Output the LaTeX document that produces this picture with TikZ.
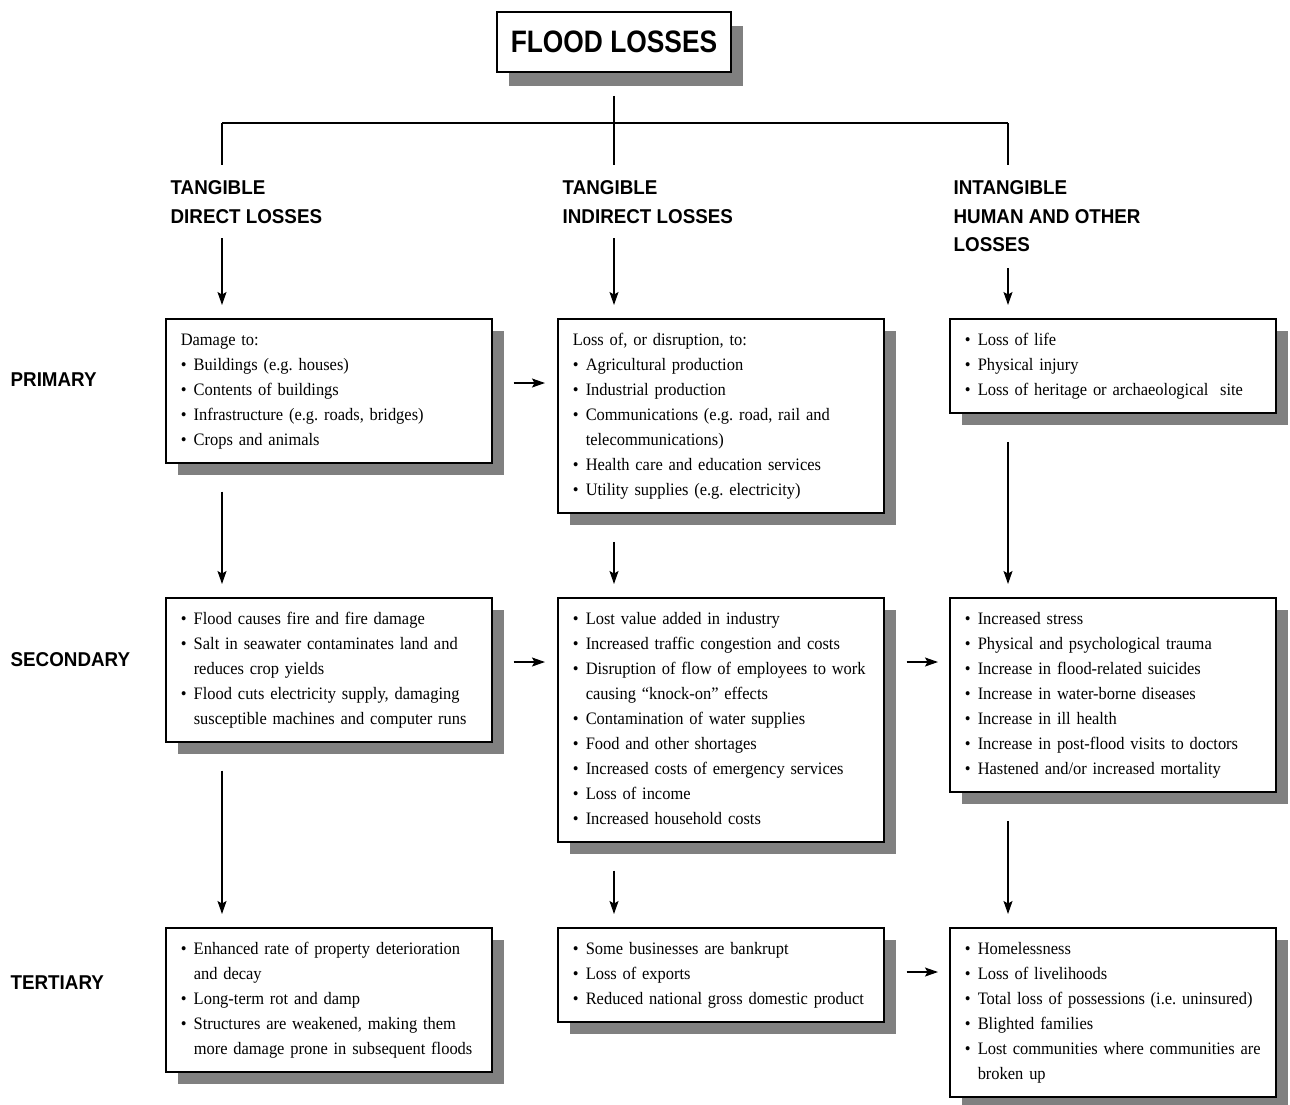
\documentclass[tikz,border=0pt]{standalone}
\usepackage{fontspec}
\setmainfont{Liberation Serif}[FakeStretch=0.94,WordSpace=0.7]
\newfontfamily\headfont{Liberation Sans}[FakeStretch=0.94]
\newfontfamily\titlefont{Liberation Sans}[FakeStretch=0.85]
\usepackage{tikz}
\usetikzlibrary{calc,shadows,arrows.meta}

\newcommand{\lstrut}{\rule[-3.5pt]{0pt}{17pt}}
\newcommand{\itm}[1]{\lstrut\makebox[13pt][l]{\textbullet}\mbox{#1}}
\newcommand{\cnt}[1]{\lstrut\hspace*{13pt}\mbox{#1}}

\begin{document}
\begin{tikzpicture}[x=1pt,y=-1pt,line width=1.3pt,>={Stealth[length=13pt,width=9pt,inset=2.5pt]}]
    \tikzstyle{loss box}=[draw,line width=1.5pt,fill=white,anchor=north west,text width=296pt,inner xsep=15pt,inner ysep=13.5pt,align=left,font=\fontsize{17.5}{25}\selectfont\frenchspacing,drop shadow={shadow xshift=12pt,shadow yshift=-12pt,fill=black!50,opacity=1}]
    \tikzstyle{head text}=[anchor=north west,inner sep=0,align=left,font=\headfont\bfseries\fontsize{20}{28.5}\selectfont]
    \tikzstyle{row label}=[anchor=west,inner sep=0,font=\headfont\bfseries\fontsize{20}{24}\selectfont]
    \useasboundingbox (0,0) rectangle (1290,1104);

    \node(title)[draw,line width=1.5pt,fill=white,minimum width=234pt,minimum height=60pt,inner sep=0,
        font=\titlefont\bfseries\fontsize{31}{31}\selectfont,
        drop shadow={shadow xshift=12pt,shadow yshift=-14pt,fill=black!50,opacity=1}] at (614,42) {FLOOD LOSSES};

    % column headings
    \node(hA)[head text] at (170,180) {TANGIBLE\\DIRECT LOSSES};
    \node(hB)[head text] at (562,180) {TANGIBLE\\INDIRECT LOSSES};
    \node(hC)[head text] at (953,180) {INTANGIBLE\\HUMAN AND OTHER\\LOSSES};

    % row labels
    \node(rP)[row label] at (10,380) {PRIMARY};
    \node(rS)[row label] at (10,660) {SECONDARY};
    \node(rT)[row label] at (10,983) {TERTIARY};

    % primary
    \node(p1)[loss box] at (165,318) {\lstrut Damage to:\\
        \itm{Buildings (e.g. houses)}\\
        \itm{Contents of buildings}\\
        \itm{Infrastructure (e.g. roads, bridges)}\\
        \itm{Crops and animals}};
    \node(p2)[loss box] at (557,318) {\lstrut Loss of, or disruption, to:\\
        \itm{Agricultural production}\\
        \itm{Industrial production}\\
        \itm{Communications (e.g. road, rail and}\\
        \cnt{telecommunications)}\\
        \itm{Health care and education services}\\
        \itm{Utility supplies (e.g. electricity)}};
    \node(p3)[loss box] at (949,318) {\itm{Loss of life}\\
        \itm{Physical injury}\\
        \itm{Loss of heritage or archaeological~ site}};

    % secondary
    \node(s1)[loss box] at (165,597) {\itm{Flood causes fire and fire damage}\\
        \itm{Salt in seawater contaminates land and}\\
        \cnt{reduces crop yields}\\
        \itm{Flood cuts electricity supply, damaging}\\
        \cnt{susceptible machines and computer runs}};
    \node(s2)[loss box] at (557,597) {\itm{Lost value added in industry}\\
        \itm{Increased traffic congestion and costs}\\
        \itm{Disruption of flow of employees to work}\\
        \cnt{causing “knock-on” effects}\\
        \itm{Contamination of water supplies}\\
        \itm{Food and other shortages}\\
        \itm{Increased costs of emergency services}\\
        \itm{Loss of income}\\
        \itm{Increased household costs}};
    \node(s3)[loss box] at (949,597) {\itm{Increased stress}\\
        \itm{Physical and psychological trauma}\\
        \itm{Increase in flood-related suicides}\\
        \itm{Increase in water-borne diseases}\\
        \itm{Increase in ill health}\\
        \itm{Increase in post-flood visits to doctors}\\
        \itm{Hastened and/or increased mortality}};

    % tertiary
    \node(t1)[loss box] at (165,927) {\itm{Enhanced rate of property deterioration}\\
        \cnt{and decay}\\
        \itm{Long-term rot and damp}\\
        \itm{Structures are weakened, making them}\\
        \cnt{more damage prone in subsequent floods}};
    \node(t2)[loss box] at (557,927) {\itm{Some businesses are bankrupt}\\
        \itm{Loss of exports}\\
        \itm{Reduced national gross domestic product}};
    \node(t3)[loss box] at (949,927) {\itm{Homelessness}\\
        \itm{Loss of livelihoods}\\
        \itm{Total loss of possessions (i.e. uninsured)}\\
        \itm{Blighted families}\\
        \itm{Lost communities where communities are}\\
        \cnt{broken up}};

% tree under the title
\coordinate (jA) at (222,123);
\coordinate (jB) at (614,123);
\coordinate (jC) at (1008,123);
\draw ($(title.south)+(0,23)$) -- (jB);
\draw (jA) -- (jC);
\foreach \j in {jA,jB,jC} \draw (\j) -- ++(0,42);

% down arrows
\draw[->] ($(jA |- p1.north)+(0,-80)$) -- ($(jA |- p1.north)+(0,-13)$);
\draw[->] ($(jB |- p2.north)+(0,-80)$) -- ($(jB |- p2.north)+(0,-13)$);
\draw[->] ($(jC |- p3.north)+(0,-50)$) -- ($(jC |- p3.north)+(0,-13)$);
\draw[->] ($(jA |- p1.south)+(0,28)$) -- ($(jA |- s1.north)+(0,-13)$);
\draw[->] ($(jB |- p2.south)+(0,28)$) -- ($(jB |- s2.north)+(0,-13)$);
\draw[->] ($(jC |- p3.south)+(0,28)$) -- ($(jC |- s3.north)+(0,-13)$);
\draw[->] ($(jA |- s1.south)+(0,28)$) -- ($(jA |- t1.north)+(0,-13)$);
\draw[->] ($(jB |- s2.south)+(0,28)$) -- ($(jB |- t2.north)+(0,-13)$);
\draw[->] ($(jC |- s3.south)+(0,28)$) -- ($(jC |- t3.north)+(0,-13)$);

% side arrows
\draw[->] ($(p1.north east)+(21,65)$) -- ($(p2.north west)+(-12,65)$);
\draw[->] ($(s1.north east)+(21,65)$) -- ($(s2.north west)+(-12,65)$);
\draw[->] ($(s2.north east)+(22,65)$) -- ($(s3.north west)+(-11,65)$);
\draw[->] ($(t2.north east)+(22,45)$) -- ($(t3.north west)+(-11,45)$);
\end{tikzpicture}
\end{document}
